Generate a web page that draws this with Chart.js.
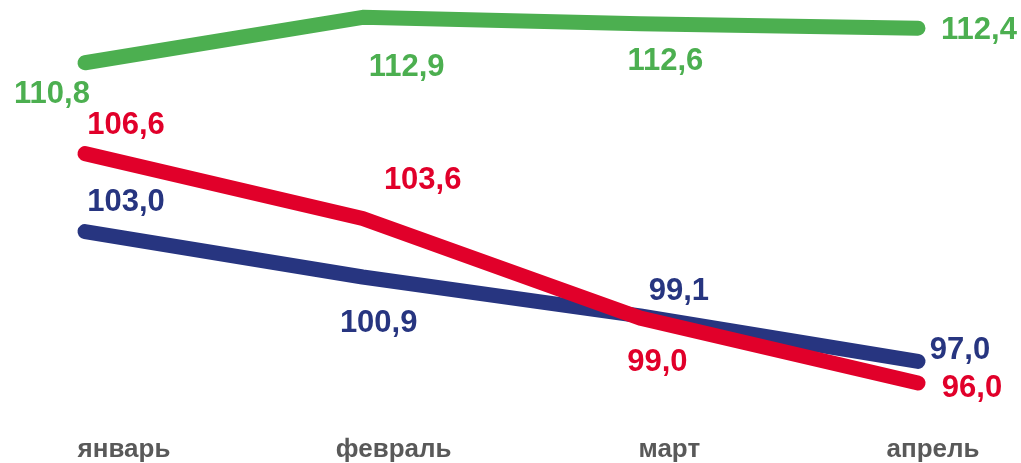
<!DOCTYPE html>
<html>
<head>
<meta charset="utf-8">
<script src="https://cdn.jsdelivr.net/npm/chart.js@4.4.1/dist/chart.umd.min.js"></script>
<style>
  html, body { margin: 0; padding: 0; background: #ffffff; }
  #wrap { width: 1021px; height: 463px; position: relative; }
</style>
</head>
<body>
<div id="wrap"><canvas id="c" width="1021" height="463"></canvas></div>
<script>
// ---- data ----
const categories = ['январь', 'февраль', 'март', 'апрель'];
const greenValues = [110.8, 112.9, 112.6, 112.4];
const redValues   = [106.6, 103.6, 99.0, 96.0];
const blueValues  = [103.0, 100.9, 99.1, 97.0];

// ---- label placement (offsets from point, px) ----
const labelOffsets = {
  green: [[-33, 31.7], [44, 50], [25, 37.5], [61, 2.5]],
  red:   [[41, -28.5], [60, -38], [17, 44], [54, 5.5]],
  blue:  [[41, -29], [16, 46.5], [38.5, -24.5], [42, -10.5]]
};
// horizontal shift of category labels from their tick (px)
const categoryLabelShift = [39, 31, 29, 15];

const GREEN = '#4caf50';
const RED = '#e1002a';
const BLUE = '#273580';
const AXIS_GREY = '#595959';
const FONT = '"Liberation Sans", Arial, sans-serif';

function fmt(v) { return v.toFixed(1).replace('.', ','); }

const valueLabels = {
  id: 'valueLabels',
  afterDatasetsDraw(chart) {
    const ctx = chart.ctx;
    ctx.save();
    ctx.font = 'bold 31px ' + FONT;
    ctx.textAlign = 'center';
    ctx.textBaseline = 'middle';
    chart.data.datasets.forEach((ds, i) => {
      const meta = chart.getDatasetMeta(i);
      const offs = labelOffsets[ds.key];
      meta.data.forEach((pt, j) => {
        ctx.fillStyle = ds.borderColor;
        ctx.fillText(fmt(ds.data[j]), pt.x + offs[j][0], pt.y + offs[j][1]);
      });
    });
    // category labels under the x axis
    const xs = chart.scales.x;
    ctx.font = 'bold 26px ' + FONT;
    ctx.fillStyle = AXIS_GREY;
    ctx.textBaseline = 'alphabetic';
    chart.data.labels.forEach((lab, i) => {
      ctx.fillText(lab, xs.getPixelForTick(i) + categoryLabelShift[i], xs.top + 31);
    });
    ctx.restore();
  }
};

const lineStyle = {
  borderWidth: 15,
  borderCapStyle: 'round',
  borderJoinStyle: 'round',
  pointRadius: 0,
  pointHoverRadius: 0,
  tension: 0,
  fill: false,
  clip: false
};

new Chart(document.getElementById('c'), {
  type: 'line',
  data: {
    labels: categories,
    datasets: [
      Object.assign({ key: 'green', data: greenValues, borderColor: GREEN, backgroundColor: GREEN }, lineStyle),
      Object.assign({ key: 'red', data: redValues, borderColor: RED, backgroundColor: RED }, lineStyle),
      Object.assign({ key: 'blue', data: blueValues, borderColor: BLUE, backgroundColor: BLUE }, lineStyle)
    ]
  },
  options: {
    responsive: false,
    animation: false,
    devicePixelRatio: 1,
    layout: { padding: { left: 85, right: 103, top: 0, bottom: 0 } },
    plugins: { legend: { display: false }, tooltip: { enabled: false } },
    scales: {
      x: {
        offset: false,
        grid: { display: false, drawTicks: false },
        border: { display: false },
        afterFit(scale) { scale.height = 36.7; },
        ticks: { display: false, autoSkip: false, maxRotation: 0 }
      },
      y: {
        display: false,
        min: 94,
        max: 113.7
      }
    }
  },
  plugins: [valueLabels]
});
</script>
</body>
</html>
